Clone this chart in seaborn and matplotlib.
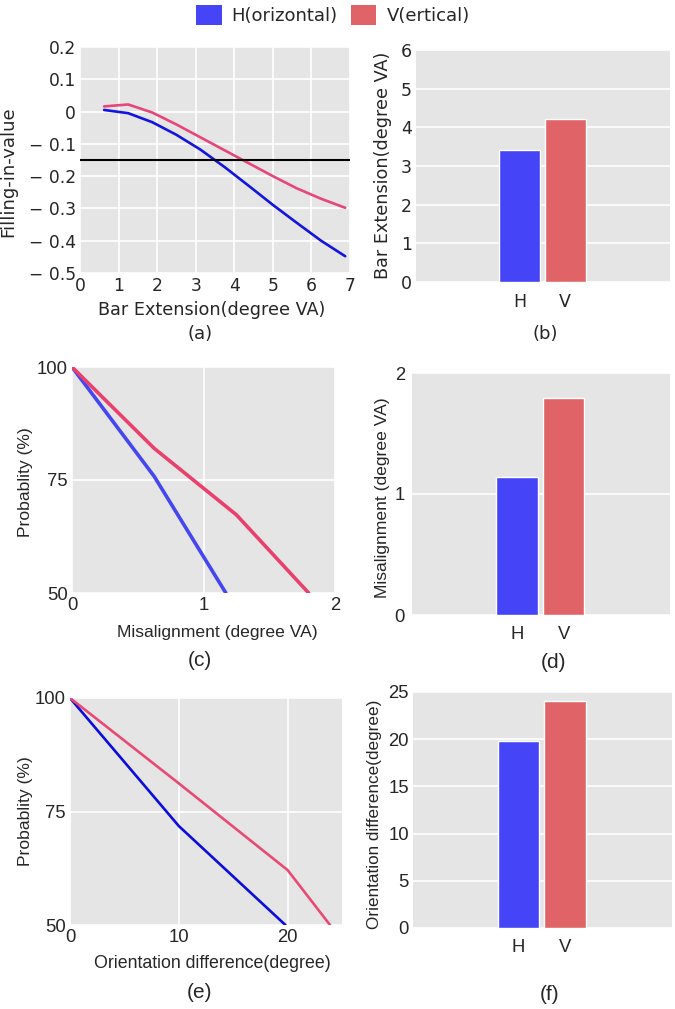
import numpy as np
import pandas as pd
import matplotlib
matplotlib.use('Agg')
import matplotlib.pyplot as plt
from matplotlib.patches import Patch
import seaborn as sns

# (a) filling-in value vs bar extension
ext_x = [0.625, 1.25, 1.875, 2.5, 3.125, 3.75, 4.375, 5.0, 5.625, 6.25, 6.875]
fill_h = [0.005, -0.005, -0.033, -0.072, -0.118, -0.172, -0.230, -0.289, -0.345, -0.400, -0.448]
fill_v = [0.016, 0.022, -0.003, -0.040, -0.080, -0.120, -0.160, -0.200, -0.238, -0.270, -0.298]
threshold = -0.15
fill_ticks = [0.2, 0.1, 0, -0.1, -0.2, -0.3, -0.4, -0.5]
fill_ticklabels = ['0.2', '0.1', '0', '\u2212 0.1', '\u2212 0.2', '\u2212 0.3', '\u2212 0.4', '\u2212 0.5']

# (b), (d), (f) thresholds per orientation
bar_labels = ['H', 'V']
ext_bar = [3.42, 4.22]
mis_bar = [1.14, 1.79]
ori_bar = [19.8, 24.0]

# (c) probability vs misalignment
mis_x_h = [0, 0.625, 1.17]
mis_p_h = [100, 75.8, 50]
mis_x_v = [0, 0.625, 1.25, 1.8]
mis_p_v = [100, 82.0, 67.3, 50]

# (e) probability vs orientation difference
ori_x_h = [0, 10, 19.8]
ori_p_h = [100, 71.8, 50]
ori_x_v = [0, 10, 20, 23.9]
ori_p_v = [100, 81.2, 62.1, 50]

BLUE_BAR = '#4545f7'
RED_BAR = '#e06367'
BG = '#e5e5e5'

sns.set_theme(style='darkgrid', rc={'axes.facecolor': BG, 'grid.color': 'white',
                                    'grid.linewidth': 1.2, 'axes.edgecolor': BG})

W, H = 675, 1009
fig = plt.figure(figsize=(W / 100, H / 100), dpi=100)


def box(left, top, right, bottom):
    return [left / W, 1 - bottom / H, (right - left) / W, (bottom - top) / H]


ax_a = fig.add_axes(box(80, 47, 350, 273))
ax_b = fig.add_axes(box(416, 50, 670, 282))
ax_c = fig.add_axes(box(72, 367, 335, 593))
ax_d = fig.add_axes(box(412, 373, 670, 615))
ax_e = fig.add_axes(box(70, 698, 342, 925))
ax_f = fig.add_axes(box(413, 692, 672, 928))

dv = 'DejaVu Sans'
ar = 'Liberation Sans'

# ---- (a)
sns.lineplot(x=ext_x, y=fill_h, ax=ax_a, color='#1414e0', lw=1.9)
sns.lineplot(x=ext_x, y=fill_v, ax=ax_a, color='#e6467a', lw=1.9)
ax_a.axhline(threshold, color='black', lw=1.5)
ax_a.set_xlim(0, 7)
ax_a.set_ylim(-0.5, 0.2)
ax_a.set_xticks(range(8))
ax_a.set_yticks(fill_ticks)
ax_a.set_yticklabels(fill_ticklabels)
ax_a.set_xlabel('Bar Extension(degree VA)', family=dv, fontsize=12.7)
ax_a.set_ylabel('Filling-in-value', family=dv, fontsize=13)
ax_a.xaxis.set_label_coords(0.489, -0.125)
ax_a.yaxis.set_label_coords(-0.233, 0.45)
for t in ax_a.get_xticklabels() + ax_a.get_yticklabels():
    t.set_family(dv)
    t.set_fontsize(12.3)
ax_a.tick_params(axis='x', length=0, pad=3)
ax_a.tick_params(axis='y', length=0, pad=3)


def bars(ax, vals, ymax, yticks, label, pad_y):
    sns.barplot(x=bar_labels, y=vals, hue=bar_labels, palette=[BLUE_BAR, RED_BAR],
                width=0.89, saturation=1, legend=False, ax=ax)
    ax.set_xlim(-2.25, 3.28)
    ax.set_ylim(0, ymax)
    ax.set_yticks(yticks)
    ax.grid(False)
    ax.grid(True, axis='y')
    ax.set_axisbelow(True)
    ax.set_ylabel(label)
    ax.tick_params(axis='x', length=0, pad=8)
    ax.tick_params(axis='y', length=0, pad=pad_y)


# ---- (b)
bars(ax_b, ext_bar, 6, range(7), 'Bar Extension(degree VA)', 3)
ax_b.yaxis.label.set_family(dv)
ax_b.yaxis.label.set_fontsize(12.7)
ax_b.yaxis.set_label_coords(-0.094, 0.504)
for t in ax_b.get_xticklabels() + ax_b.get_yticklabels():
    t.set_family(dv)
    t.set_fontsize(12.5)

# ---- (c)
sns.lineplot(x=mis_x_h, y=mis_p_h, ax=ax_c, color='#4646f0', lw=2.6)
sns.lineplot(x=mis_x_v, y=mis_p_v, ax=ax_c, color='#e8416d', lw=2.6)
ax_c.set_xlim(0, 2)
ax_c.set_ylim(50, 100)
ax_c.set_xticks([0, 1, 2])
ax_c.set_yticks([50, 75, 100])
ax_c.set_xlabel('Misalignment (degree VA)', family=ar, fontsize=12.6)
ax_c.set_ylabel('Probablity (%)', family=ar, fontsize=12.6)
ax_c.xaxis.set_label_coords(0.551, -0.14)
ax_c.yaxis.set_label_coords(-0.148, 0.49)
ax_c.tick_params(length=0, pad=3)

# ---- (d)
bars(ax_d, mis_bar, 2, [0, 1, 2], 'Misalignment (degree VA)', 5)
ax_d.yaxis.label.set_family(ar)
ax_d.yaxis.label.set_fontsize(12.6)
ax_d.yaxis.set_label_coords(-0.085, 0.483)

# ---- (e)
sns.lineplot(x=ori_x_h, y=ori_p_h, ax=ax_e, color='#0c0cdc', lw=1.9)
sns.lineplot(x=ori_x_v, y=ori_p_v, ax=ax_e, color='#e84a75', lw=1.9)
ax_e.set_xlim(0, 25)
ax_e.set_ylim(50, 100)
ax_e.set_xticks([0, 10, 20])
ax_e.set_yticks([50, 75, 100])
ax_e.set_xlabel('Orientation difference(degree)', family=ar, fontsize=12.8)
ax_e.set_ylabel('Probablity (%)', family=ar, fontsize=12.6)
ax_e.xaxis.set_label_coords(0.522, -0.132)
ax_e.yaxis.set_label_coords(-0.136, 0.50)
ax_e.tick_params(length=0, pad=3)

# ---- (f)
bars(ax_f, ori_bar, 25, [0, 5, 10, 15, 20, 25], 'Orientation difference(degree)', 3)
ax_f.yaxis.label.set_family(ar)
ax_f.yaxis.label.set_fontsize(12.3)
ax_f.yaxis.set_label_coords(-0.12, 0.483)

for ax in (ax_c, ax_d, ax_e, ax_f):
    for t in ax.get_xticklabels() + ax.get_yticklabels():
        t.set_family(ar)
        t.set_fontsize(13.3)

for ax in (ax_a, ax_c, ax_e):
    ax.grid(True)
    ax.set_axisbelow(True)

for ax in fig.axes:
    for s in ax.spines.values():
        s.set_visible(False)

# panel letters
letters = [('(a)', 200, 334, dv, 13), ('(b)', 545, 334, dv, 13),
           ('(c)', 200, 660, ar, 15), ('(d)', 554, 662, ar, 15),
           ('(e)', 200, 993, ar, 15), ('(f)', 550, 995, ar, 15)]
for txt, x, y, fam, fs in letters:
    fig.text(x / W, 1 - y / H, txt, ha='center', va='center', family=fam, fontsize=fs)

handles = [Patch(facecolor=BLUE_BAR, edgecolor='none'), Patch(facecolor=RED_BAR, edgecolor='none')]
leg = fig.legend(handles, ['H(orizontal)', 'V(ertical)'], loc='center',
                 bbox_to_anchor=(333 / W, 1 - 15 / H), ncol=2, frameon=False,
                 handlelength=1.4, handleheight=1.33, handletextpad=0.55,
                 columnspacing=0.75, prop={'family': dv, 'size': 13})

fig.savefig('out.png', dpi=100)
